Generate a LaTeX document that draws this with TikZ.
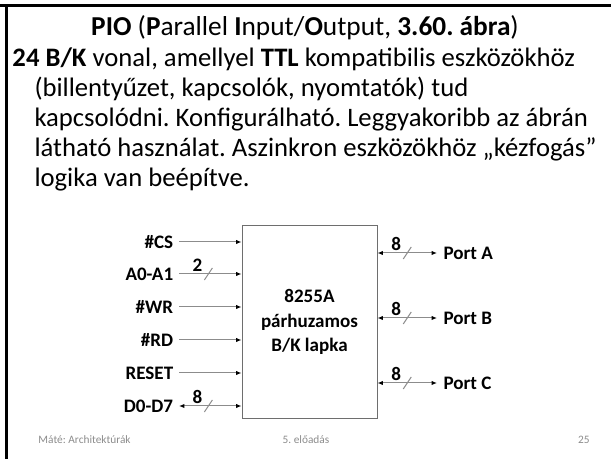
\documentclass[tikz,border=0pt]{standalone}
\usepackage{fontspec}
\setmainfont{Carlito}
\usetikzlibrary{arrows.meta}
\frenchspacing

\definecolor{wiregray}{RGB}{140,140,140}
\definecolor{boxgray}{RGB}{110,110,110}
\definecolor{footgray}{RGB}{140,140,140}

\tikzset{every picture/.style={line width=0.75pt}}
\tikzset{
  tip/.tip={Latex[length=4pt,width=3.2pt,color=black]},
  wire/.style={draw=wiregray, -tip},
  bus/.style={draw=wiregray, tip-tip},
  pin/.style={font=\fontsize{14.3}{16}\selectfont\bfseries, inner xsep=4pt, inner ysep=1pt},
  width/.style={font=\fontsize{14.3}{16}\selectfont\bfseries, inner sep=0pt, anchor=south},
  textline/.style={font=\fontsize{20}{24}\selectfont, anchor=base west, inner sep=0pt},
  foot/.style={font=\fontsize{8.5}{10}\selectfont, text=footgray, inner sep=0pt, anchor=base}
}

\begin{document}
\begin{tikzpicture}[x=0.75pt,y=-0.75pt]
    \useasboundingbox (0,0) rectangle (611,459);
    % slide frame
    \draw[line width=2.25pt] (0,6) -- (611,6);
    \draw[line width=2.25pt] (6,6) -- (6,459);

    % title and text
    \node[font=\fontsize{20.5}{24}\selectfont, inner sep=0pt, anchor=base] (title) at (305,36)
        {\textbf{PIO} (\textbf{P}arallel \textbf{I}nput/\textbf{O}utput, \textbf{3.60. ábra})};
    \node[textline] (line1) at (12,67) {\textbf{24 B/K} vonal, amellyel \textbf{TTL} kompatibilis eszközökhöz};
    \node[textline] (line2) at (34,97) {(billentyűzet, kapcsolók, nyomtatók) tud};
    \node[textline] (line3) at (34,127) {kapcsolódni. Konfigurálható. Leggyakoribb az ábrán};
    \node[textline] (line4) at (34,157) {látható használat. Aszinkron eszközökhöz „kézfogás”};
    \node[textline] (line5) at (34,187) {logika van beépítve.};

    % the 8255A chip
    \node[draw=boxgray, minimum width=101.25pt, minimum height=144.75pt, inner sep=0pt,
          align=center, font=\fontsize{14.3}{18.5}\selectfont\bfseries] (pio) at (309.5,322)
        {8255A\\párhuzamos\\B/K lapka};

    % control and data inputs
    \node[pin, anchor=east] (cs) at (179,242) {\#CS};
    \node[pin, anchor=east] (addr) at (179,274) {A0-A1};
    \node[pin, anchor=east] (wr) at (179,307) {\#WR};
    \node[pin, anchor=east] (rd) at (179,340) {\#RD};
    \node[pin, anchor=east] (reset) at (179,373) {RESET};
    \node[pin, anchor=east] (data) at (179,406) {D0-D7};

    \draw[wire] (cs) -- (cs -| pio.west);
    \draw[wire] (addr) -- (addr -| pio.west) coordinate[pos=0.47] (addrmid);
    \draw[wire] (wr) -- (wr -| pio.west);
    \draw[wire] (rd) -- (rd -| pio.west);
    \draw[wire] (reset) -- (reset -| pio.west);
    \draw[bus] (data) -- (data -| pio.west) coordinate[pos=0.47] (datamid);

    % ports
    \node[pin, anchor=west, inner xsep=4.5pt] (porta) at (437,253) {Port A};
    \node[pin, anchor=west, inner xsep=4.5pt] (portb) at (437,318) {Port B};
    \node[pin, anchor=west, inner xsep=4.5pt] (portc) at (437,383) {Port C};

    \draw[bus] (porta -| pio.east) -- (porta) coordinate[pos=0.5] (portamid);
    \draw[bus] (portb -| pio.east) -- (portb) coordinate[pos=0.5] (portbmid);
    \draw[bus] (portc -| pio.east) -- (portc) coordinate[pos=0.5] (portcmid);

    % bus width marks
    \foreach \m/\n in {addrmid/2, datamid/8, portamid/8, portbmid/8, portcmid/8} {
        \draw[wiregray] ([shift={(-4,6)}]\m) -- ([shift={(4,-6)}]\m);
        \node[width] at ([shift={(-11,-2)}]\m) {\n};
    }

    % footer
    \node[foot, anchor=base west] (author) at (38,444) {Máté: Architektúrák};
    \node[foot] (lecture) at (306,444) {5. előadás};
    \node[foot, anchor=base east] (page) at (590,444) {25};
\end{tikzpicture}
\end{document}
